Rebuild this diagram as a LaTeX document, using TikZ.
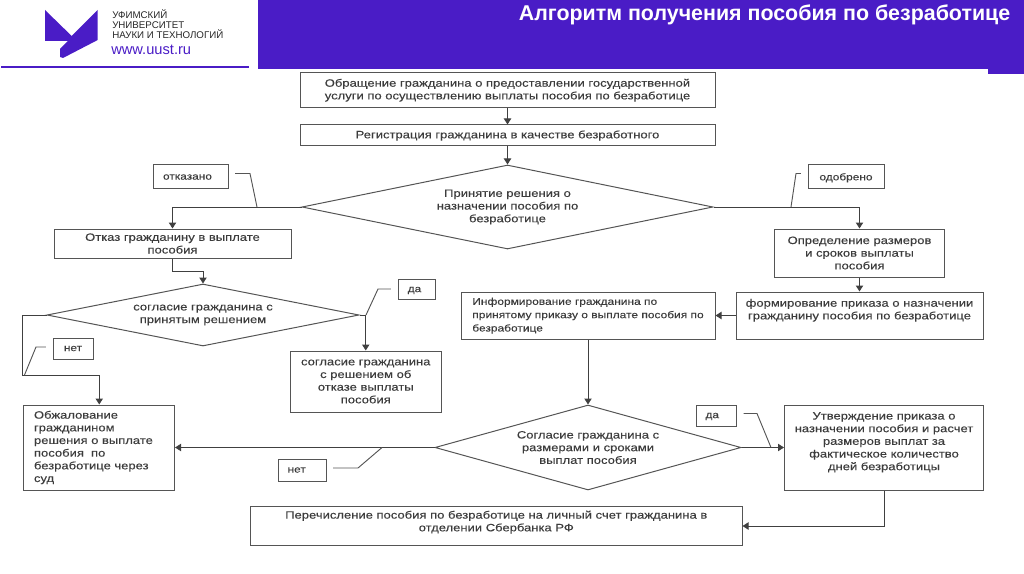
\documentclass[tikz,border=0pt]{standalone}
\usepackage{fontspec}
\setmainfont{Liberation Sans}
\newfontfamily\wideface[FakeStretch=1.22, FakeBold=0.2]{Liberation Sans}
\usetikzlibrary{arrows.meta}
\usetikzlibrary{positioning}
\usetikzlibrary{shapes, shapes.geometric}
\definecolor{uustviolet}{HTML}{4A1CC6}
\definecolor{inkgrey}{HTML}{3C3C3C}
\definecolor{linegrey}{HTML}{555555}

\begin{document}
\begin{tikzpicture}[x=0.75pt, y=-0.75pt,
  wh/.style 2 args={minimum width=#1*0.75pt, minimum height=#2*0.75pt},
  stepbox/.style={rectangle, draw=linegrey, line width=0.75pt, inner sep=0pt, align=center, text=inkgrey, font=\wideface\fontsize{8}{9.5}\selectfont},
  choice/.style={stepbox, diamond, shape aspect=#1},
  tagbox/.style={stepbox, text depth=0pt, font=\wideface\fontsize{7.3}{8}\selectfont},
  flow/.style={-{Triangle[length=4.5pt, width=5.5pt]}, line width=0.75pt, draw=black!75},
  leader/.style={draw=linegrey, line width=0.7pt, shorten <=5pt}]

\useasboundingbox (0,0) rectangle (1024,574);

% header
\fill[uustviolet] (258,0) rectangle (1024,69);
\fill[uustviolet] (988,69) rectangle (1024,74);
\fill[uustviolet] (1,66) rectangle (249,68.5);
\fill[uustviolet] (45,10) -- (71.7,36) -- (97.7,10) -- (97.7,40) -- (63,58) -- (60,57) -- (60,49) -- (68,41) -- (45,41) -- cycle;
\node[text=white, font=\bfseries\fontsize{16.05}{18}\selectfont] (title) at (764.5,15) {Алгоритм получения пособия по безработице};
\node[anchor=west, inner sep=0pt, align=left, text=black!85, font=\fontsize{7.3}{7.5}\selectfont] (uni) at (112,24.5) {УФИМСКИЙ\\УНИВЕРСИТЕТ\\НАУКИ И ТЕХНОЛОГИЙ};
\node[anchor=west, inner sep=0pt, text=uustviolet, font=\fontsize{11}{12}\selectfont] (site) at (111,50) {www.uust.ru};

% main column
\node[stepbox, wh={415}{35}] (request) at (507.5,90.5) {\begin{tabular}{@{}l@{}}Обращение гражданина о предоставлении государственной\\услуги по осуществлению выплаты пособия по безработице\end{tabular}};
\node[stepbox, wh={415}{21}] (register) at (507.5,135.5) {Регистрация гражданина в качестве безработного};
\node[choice=4.9, wh={411}{84}] (decision) at (507.5,207) {Принятие решения о\\назначении пособия по\\безработице};

% refused branch
\node[tagbox, wh={75}{24}] (tagRefused) at (190.5,177) {отказано\hspace*{4.5pt}};
\node[stepbox, wh={237}{29}] (refusal) at (172.5,243.5) {Отказ гражданину в выплате\\пособия};
\node[choice=5, wh={312}{62}] (consent) at (203,315) {согласие гражданина с\\принятым решением};
\node[tagbox, wh={37}{20}] (tagYesLeft) at (416.5,289.5) {да\hspace*{3pt}};
\node[stepbox, wh={150.5}{61}] (accepted) at (365.75,381.5) {согласие гражданина\\с решением об\\отказе выплаты\\пособия};
\node[tagbox, wh={40}{21}] (tagNoLeft) at (73,348.5) {нет};
\node[stepbox, wh={150.5}{85}, align=left, inner xsep=7.5pt, text width=97.9pt] (appeal) at (99.25,447.5) {Обжалование гражданином решения о выплате пособия\ \ по безработице через суд};

% approved branch
\node[tagbox, wh={76}{23.5}] (tagApproved) at (846,176.75) {одобрено};
\node[stepbox, wh={170}{48}] (sizes) at (859.5,253) {Определение размеров\\и сроков выплаты\\пособия};
\node[stepbox, wh={247}{47}] (order) at (859.5,315.5) {формирование приказа о назначении\\гражданину пособия по безработице\\\mbox{}};
\node[stepbox, wh={254}{47}, font=\wideface\fontsize{7.35}{10}\selectfont] (inform) at (588,315.5) {\begin{tabular}{@{}l@{}}Информирование гражданина по\\принятому приказу о выплате пособия по\\безработице\end{tabular}};
\node[choice=3.6, wh={306}{85}] (terms) at (588,447.5) {Согласие гражданина с\\размерами и сроками\\выплат пособия};
\node[tagbox, wh={40.5}{21}] (tagYesRight) at (716.25,415.5) {да\hspace*{6pt}};
\node[tagbox, wh={48}{22}] (tagNoRight) at (302,470) {нет\hspace*{8pt}};
\node[stepbox, wh={199}{85}] (approve) at (884,447.5) {Утверждение приказа о\\назначении пособия и расчет\\размеров выплат за\\фактическое количество\\дней безработицы\\\mbox{}};
\node[stepbox, wh={491.5}{39}] (payment) at (496.25,526) {Перечисление пособия по безработице на личный счет гражданина в\\отделении Сбербанка РФ\\[-2pt]};

\coordinate (bendConsent) at (203,271);
\coordinate (bendAppeal) at (22,375);
\coordinate (kneeRefused) at (250,173.5);
\coordinate (footRefused) at (257,207);
\coordinate (kneeApproved) at (796,173.5);
\coordinate (footApproved) at (791,207);
\coordinate (kneeYesLeft) at (378,289);
\coordinate (footYesLeft) at (366,315);
\coordinate (kneeNoLeft) at (36,347);
\coordinate (footNoLeft) at (24.5,375);
\coordinate (kneeYesRight) at (757,413.5);
\coordinate (footYesRight) at (771,447.5);
\coordinate (kneeNoRight) at (358,468);
\coordinate (footNoRight) at (382,447.5);

\draw[flow] (request.south) -- (register.north);
\draw[flow] (register.south) -- (decision.north);
\draw[flow] (decision.west) -| (refusal.north);
\draw[flow] (decision.east) -| (sizes.north);
\draw[flow] (refusal.south) |- (bendConsent) -- (consent.north);
\draw[flow] (consent.east) -| (accepted.north);
\draw[flow] (consent.west) -| (bendAppeal) -| (appeal.north);
\draw[flow] (sizes.south) -- (order.north);
\draw[flow] (order.west) -- (inform.east);
\draw[flow] (inform.south) -- (terms.north);
\draw[flow] (terms.east) -- (approve.west);
\draw[flow] (terms.west) -- (appeal.east);
\draw[flow] (approve.south) |- (payment.east);

\draw[leader] (tagRefused.east |- kneeRefused) -- (kneeRefused) -- (footRefused);
\draw[leader] (tagApproved.west |- kneeApproved) -- (kneeApproved) -- (footApproved);
\draw[leader] (tagYesLeft.west |- kneeYesLeft) -- (kneeYesLeft) -- (footYesLeft);
\draw[leader] (tagNoLeft.west |- kneeNoLeft) -- (kneeNoLeft) -- (footNoLeft);
\draw[leader] (tagYesRight.east |- kneeYesRight) -- (kneeYesRight) -- (footYesRight);
\draw[leader] (tagNoRight.east |- kneeNoRight) -- (kneeNoRight) -- (footNoRight);

\end{tikzpicture}
\end{document}
